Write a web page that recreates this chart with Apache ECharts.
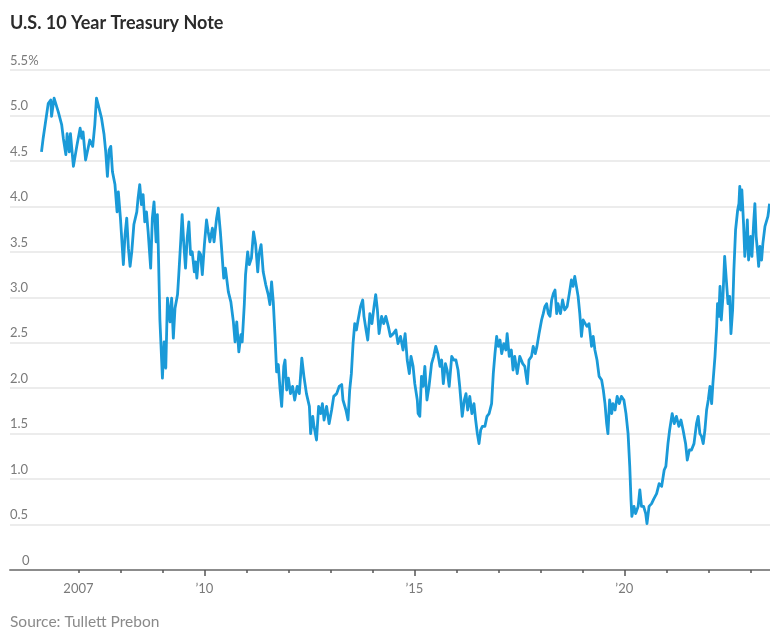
<!DOCTYPE html>
<html>
<head>
<meta charset="utf-8">
<script src="https://cdn.jsdelivr.net/npm/echarts@6/dist/echarts.min.js"></script>
<style>
html,body{margin:0;padding:0;background:#fff;}
#chart{width:770px;height:630px;}
</style>
</head>
<body>
<div id="chart"></div>
<script>
// Decimal years (x) and 10-year yields in percent (y)
const dates = [
2006.12,2006.16,2006.28,2006.34,2006.36,2006.42,2006.46,2006.52,2006.60,2006.64,2006.70,2006.73,2006.78,2006.81,2006.88,2006.96,
2007.04,2007.08,2007.11,2007.17,2007.23,2007.27,2007.34,2007.39,2007.43,2007.47,2007.51,2007.55,2007.61,2007.65,2007.69,2007.73,2007.77,2007.81,2007.87,2007.92,2007.95,
2008.00,2008.07,2008.11,2008.15,2008.19,2008.23,2008.27,2008.32,2008.39,2008.42,2008.46,2008.50,2008.54,2008.58,2008.62,2008.66,2008.72,2008.76,2008.80,2008.85,2008.88,2008.90,2008.94,
2009.00,2009.04,2009.08,2009.12,2009.18,2009.22,2009.26,2009.30,2009.36,2009.39,2009.44,2009.47,2009.51,2009.55,2009.59,2009.63,2009.67,2009.71,2009.76,2009.79,2009.82,2009.87,2009.91,2009.95,
2010.00,2010.05,2010.09,2010.13,2010.19,2010.23,2010.29,2010.33,2010.38,2010.42,2010.46,2010.50,2010.57,2010.63,2010.69,2010.73,2010.77,2010.82,2010.87,2010.90,2010.95,2010.98,
2011.03,2011.07,2011.12,2011.17,2011.22,2011.27,2011.30,2011.35,2011.40,2011.46,2011.52,2011.56,2011.60,2011.64,2011.68,2011.72,2011.76,2011.80,2011.84,2011.89,2011.92,2011.96,
2012.00,2012.05,2012.10,2012.15,2012.21,2012.26,2012.32,2012.37,2012.43,2012.50,2012.53,2012.58,2012.61,2012.67,2012.72,2012.77,2012.81,2012.85,2012.91,2012.97,
2013.03,2013.08,2013.15,2013.21,2013.27,2013.30,2013.37,2013.42,2013.46,2013.50,2013.54,2013.58,2013.62,2013.66,2013.72,2013.77,2013.80,2013.85,2013.89,2013.94,2013.99,
2014.04,2014.08,2014.12,2014.16,2014.22,2014.27,2014.32,2014.38,2014.43,2014.50,2014.56,2014.61,2014.67,2014.73,2014.78,2014.83,2014.88,2014.92,2014.97,
2015.01,2015.07,2015.09,2015.13,2015.17,2015.21,2015.25,2015.30,2015.35,2015.41,2015.46,2015.51,2015.56,2015.61,2015.65,2015.69,2015.74,2015.78,2015.83,2015.89,2015.94,2015.99,
2016.04,2016.08,2016.14,2016.19,2016.23,2016.27,2016.32,2016.37,2016.42,2016.46,2016.50,2016.54,2016.58,2016.62,2016.68,2016.73,2016.78,2016.84,2016.88,2016.92,2016.96,
2017.00,2017.04,2017.08,2017.13,2017.18,2017.21,2017.26,2017.31,2017.35,2017.39,2017.45,2017.51,2017.58,2017.63,2017.69,2017.73,2017.79,2017.83,2017.88,2017.92,2017.97,
2018.03,2018.07,2018.11,2018.15,2018.19,2018.23,2018.27,2018.31,2018.35,2018.39,2018.42,2018.48,2018.53,2018.58,2018.64,2018.69,2018.74,2018.78,2018.82,2018.86,2018.90,2018.94,2018.98,
2019.02,2019.07,2019.11,2019.16,2019.22,2019.26,2019.30,2019.35,2019.40,2019.46,2019.50,2019.54,2019.58,2019.61,2019.65,2019.70,2019.73,2019.78,2019.83,2019.88,2019.93,2019.99,
2020.04,2020.09,2020.13,2020.16,2020.18,2020.23,2020.27,2020.33,2020.37,2020.41,2020.46,2020.51,2020.54,2020.59,2020.65,2020.70,2020.77,2020.83,2020.89,2020.95,2020.99,
2021.04,2021.08,2021.14,2021.19,2021.24,2021.30,2021.35,2021.40,2021.46,2021.50,2021.55,2021.60,2021.66,2021.72,2021.76,2021.80,2021.84,2021.88,2021.92,2021.96,
2022.00,2022.04,2022.08,2022.11,2022.16,2022.20,2022.22,2022.25,2022.28,2022.31,2022.35,2022.39,2022.43,2022.47,2022.51,2022.54,2022.58,2022.61,2022.65,2022.70,2022.73,2022.75,2022.77,2022.80,2022.84,2022.87,2022.91,2022.93,2022.96,
2023.01,2023.04,2023.08,2023.11,2023.14,2023.17,2023.20,2023.23,2023.27,2023.30,2023.35,2023.39,2023.42,2023.46
];
const yields = [
4.60,4.75,5.13,5.17,4.99,5.19,5.21,5.04,4.90,4.75,4.57,4.80,4.60,4.80,4.44,4.66,
4.86,4.75,4.82,4.51,4.64,4.73,4.66,4.90,5.19,5.12,5.13,4.97,4.79,4.60,4.33,4.62,4.66,4.38,4.24,3.94,4.16,
3.87,3.36,3.69,3.87,3.54,3.34,3.50,3.80,3.94,4.09,4.24,4.02,4.13,3.83,3.94,3.72,3.32,3.87,4.05,3.61,3.91,3.58,2.75,
2.11,2.51,2.22,2.99,2.73,2.99,2.55,2.88,3.03,3.25,3.65,3.91,3.58,3.32,3.65,3.83,3.47,3.50,3.28,3.39,3.21,3.50,3.47,3.25,
3.58,3.85,3.72,3.61,3.76,3.61,3.87,3.98,3.72,3.47,3.21,3.32,3.06,2.95,2.73,2.51,2.73,2.40,2.59,2.51,2.92,3.25,
3.50,3.36,3.43,3.72,3.58,3.28,3.47,3.58,3.28,3.14,3.03,2.92,3.17,2.95,2.59,2.18,2.26,2.00,1.80,2.24,2.31,1.98,
2.11,1.94,2.02,1.87,2.02,1.94,2.33,2.13,1.94,1.80,1.50,1.69,1.58,1.43,1.80,1.72,1.83,1.65,1.80,1.61,
1.76,1.91,1.94,2.02,2.04,1.87,1.76,1.65,1.98,2.16,2.49,2.71,2.64,2.75,2.90,2.97,2.79,2.64,2.53,2.82,2.71,
2.90,3.03,2.86,2.60,2.79,2.71,2.79,2.68,2.57,2.60,2.64,2.49,2.57,2.42,2.60,2.31,2.16,2.35,2.24,
2.05,1.87,1.72,1.69,2.13,2.02,2.24,1.87,2.02,2.27,2.35,2.46,2.38,2.24,2.31,2.05,2.27,2.20,2.02,2.35,2.31,2.31,
2.20,2.02,1.69,1.87,1.94,1.76,1.91,1.72,1.83,1.65,1.50,1.39,1.54,1.58,1.58,1.69,1.72,1.83,2.16,2.38,2.57,
2.46,2.53,2.38,2.49,2.42,2.60,2.35,2.42,2.20,2.35,2.16,2.35,2.27,2.24,2.05,2.31,2.35,2.46,2.38,2.46,2.60,
2.75,2.82,2.90,2.93,2.82,2.79,2.97,3.04,3.08,2.82,2.93,2.82,2.97,2.86,2.90,3.04,3.19,3.12,3.23,3.12,3.01,2.82,2.57,
2.75,2.71,2.68,2.71,2.46,2.57,2.42,2.31,2.13,2.09,1.98,1.83,1.61,1.50,1.87,1.72,1.83,1.76,1.91,1.83,1.91,1.87,
1.72,1.50,1.14,0.77,0.59,0.70,0.62,0.70,0.88,0.70,0.70,0.62,0.51,0.70,0.73,0.78,0.84,0.95,0.92,1.10,1.14,
1.39,1.54,1.72,1.61,1.69,1.58,1.65,1.54,1.39,1.21,1.32,1.32,1.39,1.61,1.69,1.50,1.47,1.39,1.54,1.76,
1.87,2.02,1.83,2.05,2.35,2.68,2.93,2.79,3.12,2.75,3.01,3.45,3.19,2.93,3.01,2.60,2.86,3.30,3.74,3.96,4.03,4.22,3.96,4.18,3.81,3.45,3.67,3.85,3.41,
3.67,3.45,3.81,4.03,3.67,3.52,3.34,3.56,3.41,3.59,3.78,3.78,3.89,4.03
];
const yTicks = [0, 0.5, 1.0, 1.5, 2.0, 2.5, 3.0, 3.5, 4.0, 4.5, 5.0, 5.5];
const yearTicks = [2007,2008,2009,2010,2011,2012,2013,2014,2015,2016,2017,2018,2019,2020,2021,2022,2023];
const majorYears = [2010, 2015, 2020];
const labelYears = [2007, 2010, 2015, 2020];
const yearLabels = {2007: '2007', 2010: '\u201910', 2015: '\u201915', 2020: '\u201920'};
const titleText = 'U.S. 10 Year Treasury Note';
const sourceText = 'Source: Tullett Prebon';

const FONT = 'Lato, "Noto Sans", sans-serif';
const xMin = 2005.37, xMax = 2023.47;

const chart = echarts.init(document.getElementById('chart'), null, {renderer: 'canvas'});
chart.setOption({
  animation: false,
  backgroundColor: '#ffffff',
  title: [
    {text: titleText, left: 10, top: 14, padding: 0,
     textStyle: {fontFamily: FONT, fontSize: 18, fontWeight: 'bold', color: '#2b2b2b'}},
    {text: sourceText, left: 10, top: 614, padding: 0,
     textStyle: {fontFamily: FONT, fontSize: 15.5, fontWeight: 'normal', color: '#8a8a8a'}}
  ],
  grid: {left: 10, right: 0, top: 70, bottom: 60, containLabel: false},
  xAxis: [
    {
      type: 'value', min: xMin, max: xMax,
      axisLine: {show: true, lineStyle: {color: '#8c8c8c', width: 2}},
      axisTick: {show: true, customValues: yearTicks, length: 3, lineStyle: {color: '#555', width: 1.5}},
      axisLabel: {show: true, customValues: labelYears, margin: 12,
        formatter: v => yearLabels[Math.round(v)] || '',
        fontFamily: FONT, fontSize: 13, color: '#7a7a7a'},
      splitLine: {show: false}
    },
    {
      type: 'value', min: xMin, max: xMax, position: 'bottom',
      axisLine: {show: false},
      axisTick: {show: true, customValues: majorYears, length: 6, lineStyle: {color: '#555', width: 1.5}},
      axisLabel: {show: false},
      splitLine: {show: false}
    }
  ],
  yAxis: {
    type: 'value', min: 0, max: 5.5, interval: 0.5,
    axisLine: {show: false}, axisTick: {show: false},
    splitLine: {show: true, lineStyle: {color: '#e6e6e6', width: 1.5}},
    axisLabel: {
      inside: true, margin: 0, verticalAlign: 'bottom', align: 'left',
      padding: [0, 0, 3, 0],
      fontFamily: FONT, fontSize: 13, color: '#7a7a7a',
      formatter: function (v) {
        if (v === 0) return '{z|0}';
        if (Math.abs(v - 5.5) < 1e-9) return '5.5%';
        return v.toFixed(1);
      },
      rich: {z: {padding: [0, 0, 0, 12], fontFamily: FONT, fontSize: 13, color: '#7a7a7a'}}
    }
  },
  series: [{
    type: 'line',
    data: dates.map((d, i) => [d, yields[i]]),
    showSymbol: false,
    symbol: 'none',
    lineStyle: {color: '#1a9ad8', width: 2.8, join: 'round'},
    z: 5
  }]
});
</script>
</body>
</html>
